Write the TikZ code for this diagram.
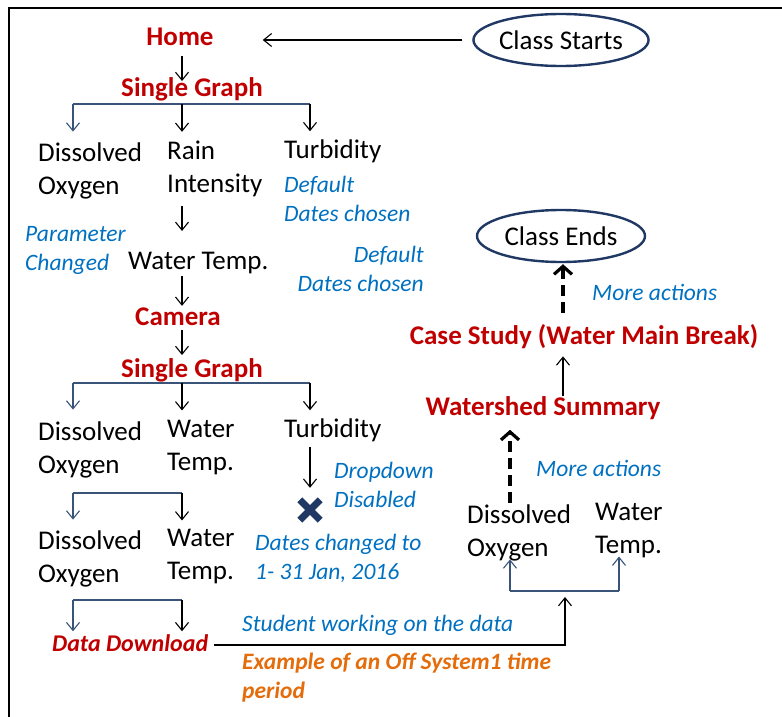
\documentclass[tikz,border=0pt]{standalone}
\usepackage{fontspec}
\setmainfont{Carlito}
\usetikzlibrary{arrows.meta,shapes.geometric}
\definecolor{redc}{HTML}{C00000}
\definecolor{bluec}{HTML}{0070C0}
\definecolor{orangec}{HTML}{E46C0A}
\definecolor{navyc}{HTML}{1F3864}
\definecolor{navyl}{HTML}{3A5378}
\begin{document}
\begin{tikzpicture}[x=1pt,y=-1pt,
  txt/.style={font=\fontsize{27}{33}\selectfont, align=left, inner sep=0pt, anchor=west},
  rtxt/.style={font=\fontsize{27}{33}\selectfont\bfseries, text=redc, inner sep=0pt},
  note/.style={font=\fontsize{23.5}{29}\selectfont\itshape, text=bluec, align=left, inner sep=0pt, anchor=west},
  onote/.style={font=\fontsize{23.5}{29}\selectfont\bfseries\itshape, text=orangec, align=left, inner sep=0pt, anchor=west},
  arr/.style={draw=black, line width=1.1pt, -{Straight Barb[length=8pt,width=13pt]}},
  barr/.style={draw=navyl, line width=1.1pt, -{Straight Barb[length=8pt,width=13pt]}},
  bline/.style={draw=navyl, line width=1.1pt},
  darr/.style={draw=black, line width=3.6pt, dash pattern=on 11pt off 6pt, -{Straight Barb[length=8pt,width=18pt,line width=3.2pt]}},
  oval/.style={ellipse, draw=navyc, line width=2.4pt, minimum width=168pt, minimum height=52pt, inner sep=0pt, font=\fontsize{27}{33}\selectfont},
  xline/.style={draw=navyc, line width=7pt}
]
\useasboundingbox (0,0) rectangle (782,717);
\draw[line width=2.5pt] (9,717) -- (9,8) -- (782,8);

% nodes, left column
\node[rtxt] (home) at (180,37) {Home};
\node[oval] (cs) at (561,40) {Class Starts};
\node[rtxt] (sg1) at (192,89) {Single Graph};
\node[txt] (do1) at (38,171) {Dissolved\\Oxygen};
\node[txt] (ri1) at (167,169) {Rain\\Intensity};
\node[txt] (tu1) at (284,151) {Turbidity};
\node[note] (dd1) at (284,199) {Default\\Dates chosen};
\node[note] (pc) at (25,250) {Parameter\\Changed};
\node[txt] (wt1) at (128,263) {Water Temp.};
\node[note, align=right, anchor=east] (dd2) at (424,269) {Default\\Dates chosen};
\node[rtxt] (cam) at (178,317) {Camera};
\node[rtxt] (sg2) at (192,370) {Single Graph};
\node[txt] (do2) at (38,450) {Dissolved\\Oxygen};
\node[txt] (wt2) at (167,448) {Water\\Temp.};
\node[txt] (tu2) at (284,430) {Turbidity};
\node[inner sep=0pt, minimum size=20pt] (xm) at (310,510) {};
\node[note] (dis) at (334,485) {Dropdown\\Disabled};
\node[note] (dc) at (255,558) {Dates changed to\\1- 31 Jan, 2016};
\node[txt] (do3) at (38,559) {Dissolved\\Oxygen};
\node[txt] (wt3) at (167,557) {Water\\Temp.};
\node[rtxt, font=\fontsize{24}{29}\selectfont\bfseries\itshape, anchor=west] (ddl) at (52,643) {Data Download};
\node[note] (sw) at (242,625) {Student working on the data};
\node[onote] (ex) at (242,678) {Example of an Off System1 time\\period};

% right column
\node[txt] (do4) at (467,533) {Dissolved\\Oxygen};
\node[txt] (wt4) at (595,531) {Water\\Temp.};
\node[note] (ma1) at (536,468) {More actions};
\node[rtxt] (ws) at (543,408) {Watershed Summary};
\node[rtxt] (csb) at (584,337) {Case Study (Water Main Break)};
\node[note] (ma2) at (592,292) {More actions};
\node[oval] (ce) at (561,236) {Class Ends};

% coordinates
\coordinate (mx) at (182,0);
\coordinate (b1l) at (73,104);
\coordinate (b1m) at (182,104);
\coordinate (b1r) at (310,104);
\coordinate (b2l) at (73,383);
\coordinate (b2m) at (182,383);
\coordinate (b2r) at (310,383);
\coordinate (b3l) at (73,493);
\coordinate (b3r) at (182,493);
\coordinate (b4l) at (73,600);
\coordinate (b4r) at (182,600);
\coordinate (r5l) at (510,591);
\coordinate (r5m) at (565,591);
\coordinate (r5r) at (619,591);
\coordinate (d1x) at (510,0);
\coordinate (d2x) at (563,0);

% connectors
\draw[arr, shorten <=10pt, shorten >=49pt] (cs.west) -- (cs.west -| home.east);
\draw[arr, shorten <=10pt, shorten >=-4pt] (home.south -| mx) -- (sg1.north -| mx);

\draw[bline] (b1l) -- (b1r);
\draw[barr, shorten >=11pt] (b1l) -- (b1l |- do1.north);
\draw[arr, shorten >=9pt] (b1m) -- (b1m |- ri1.north);
\draw[arr, shorten >=8pt] (b1r) -- (b1r |- tu1.north);

\draw[arr, shorten <=9pt, shorten >=21pt] (ri1.south -| mx) -- (wt1.north -| mx);
\draw[arr, shorten <=2pt, shorten >=2pt] (wt1.south -| mx) -- (cam.north -| mx);
\draw[arr, shorten <=4pt, shorten >=3pt] (cam.south -| mx) -- (sg2.north -| mx);

\draw[bline] (b2l) -- (b2r);
\draw[barr, shorten >=12pt] (b2l) -- (b2l |- do2.north);
\draw[arr, shorten >=10pt] (b2m) -- (b2m |- wt2.north);
\draw[arr, shorten >=8pt] (b2r) -- (b2r |- tu2.north);

\draw[arr, shorten <=5pt, shorten >=12pt] (tu2.south -| xm) -- (xm.north);
\draw[xline] (xm.north west) -- (xm.south east);
\draw[xline] (xm.north east) -- (xm.south west);

\draw[bline] (b3l) -- (b3r);
\draw[barr, shorten >=11pt] (b3l) -- (b3l |- do3.north);
\draw[arr, shorten >=9pt] (b3r) -- (b3r |- wt3.north);

\draw[bline] (b4l) -- (b4r);
\draw[barr, shorten >=3pt] (b4l) -- (b4l |- ddl.north);
\draw[arr, shorten >=3pt] (b4r) -- (b4r |- ddl.north);

\draw[arr, shorten <=6pt, shorten >=6pt] ([yshift=-2pt]ddl.east) -| (r5m);
\draw[bline] (r5l) -- (r5r);
\draw[barr, shorten >=-2pt] (r5l) -- (r5l |- do4.south);
\draw[barr, shorten >=-2pt] (r5r) -- (r5r |- wt4.south);

\draw[darr, shorten <=2pt, shorten >=10pt] (do4.north -| d1x) -- (ws.south -| d1x);
\draw[arr, shorten >=7pt] (ws.north -| d2x) -- (csb.south -| d2x);
\draw[darr, shorten <=12pt, shorten >=1pt] (csb.north -| d2x) -- (ce.south -| d2x);
\end{tikzpicture}
\end{document}
